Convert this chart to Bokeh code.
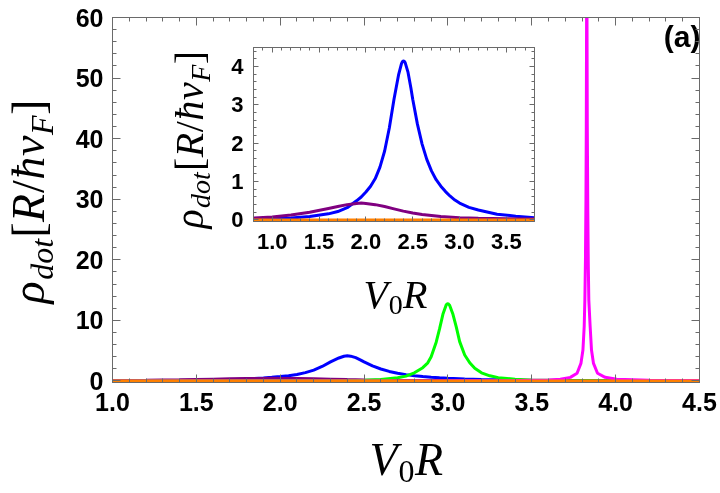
import numpy as np
from math import pi
from bokeh.plotting import figure
from bokeh.models import Range1d, LinearAxis, FixedTicker, Label
from bokeh.embed import file_html
from bokeh.resources import INLINE

# ---------------- data ----------------
blue_x = [0.8, 1.0, 1.2, 1.4, 1.6, 1.7, 1.8, 1.9, 1.95, 2.0, 2.05, 2.1, 2.15, 2.2, 2.25, 2.3,
          2.35, 2.38, 2.39, 2.4, 2.41, 2.42, 2.45, 2.48, 2.5, 2.55, 2.6, 2.65, 2.7, 2.75, 2.8,
          2.85, 2.9, 2.95, 3.0, 3.1, 3.2, 3.4, 3.6, 3.8, 4.0, 4.5]
blue_y = [0.02, 0.03, 0.05, 0.09, 0.16, 0.22, 0.32, 0.5, 0.6, 0.73, 0.88, 1.08, 1.38, 1.8, 2.4, 3.15,
          3.8, 4.08, 4.13, 4.15, 4.14, 4.1, 3.85, 3.45, 3.15, 2.5, 1.98, 1.58, 1.28, 1.05, 0.88,
          0.74, 0.62, 0.52, 0.44, 0.33, 0.26, 0.15, 0.1, 0.06, 0.05, 0.03]

purple_x = [0.8, 1.0, 1.2, 1.4, 1.6, 1.7, 1.8, 1.9, 1.95, 2.0, 2.1, 2.2, 2.3, 2.4, 2.5, 2.6,
            2.8, 3.0, 3.2, 3.5, 4.0, 4.5]
purple_y = [0.05, 0.08, 0.13, 0.2, 0.3, 0.35, 0.4, 0.43, 0.44, 0.43, 0.4, 0.35, 0.29, 0.23, 0.18, 0.14,
            0.09, 0.06, 0.045, 0.03, 0.02, 0.015]

green_x = [1.0, 2.0, 2.4, 2.5, 2.6, 2.7, 2.75, 2.8, 2.85, 2.88, 2.9, 2.93, 2.95, 2.97, 2.99, 3.0,
           3.01, 3.03, 3.05, 3.07, 3.1, 3.13, 3.16, 3.2, 3.25, 3.3, 3.4, 3.5, 3.7, 4.0, 4.5]
green_y = [0.01, 0.03, 0.08, 0.13, 0.25, 0.55, 0.8, 1.35, 2.2, 3.0, 4.0, 6.4, 8.6, 11.0, 12.6, 12.8,
           12.5, 11.0, 8.9, 6.5, 4.3, 3.0, 2.1, 1.35, 0.85, 0.55, 0.28, 0.17, 0.08, 0.04, 0.02]

magenta_x = [1.0, 3.0, 3.4, 3.6, 3.67, 3.73, 3.77, 3.793, 3.805, 3.8125, 3.8165, 3.82, 3.823, 3.825,
             3.827, 3.828, 3.829, 3.831, 3.834, 3.837, 3.84, 3.848, 3.856, 3.868, 3.892, 3.9375,
             4.007, 4.2, 4.5]
magenta_y = [0.0, 0.02, 0.06, 0.18, 0.28, 0.6, 1.27, 2.9, 5.1, 9.0, 13.4, 20.0, 30.0, 42.0,
             62.0, 75.0, 62.0, 42.0, 28.0, 19.0, 13.4, 9.0, 5.1, 2.9, 1.27, 0.6,
             0.28, 0.12, 0.06]

orange_x = [0.8, 1.0, 1.5, 2.0, 2.5, 3.0, 3.5, 4.0, 4.5]
orange_y = [0.0, 0.0, 0.0, 0.0, 0.0, 0.0, 0.0, 0.0, 0.0]

main_x_ticks = [1.0, 1.5, 2.0, 2.5, 3.0, 3.5, 4.0, 4.5]
main_x_labels = ["1.0", "1.5", "2.0", "2.5", "3.0", "3.5", "4.0", "4.5"]
main_y_ticks = [0, 10, 20, 30, 40, 50, 60]
main_y_labels = ["0", "10", "20", "30", "40", "50", "60"]
inset_x_ticks = [1.0, 1.5, 2.0, 2.5, 3.0, 3.5]
inset_x_labels = ["1.0", "1.5", "2.0", "2.5", "3.0", "3.5"]
inset_y_ticks = [0, 1, 2, 3, 4]
inset_y_labels = ["0", "1", "2", "3", "4"]

# ---------------- styling ----------------
GRAY = "#6a6a6a"
SERIF = "Liberation Serif"
SANS = "Liberation Sans"
COLORS = {"blue": "#0000ff", "purple": "#800080", "green": "#00ff00",
          "magenta": "#ff00ff", "orange": "#ff8000"}

EM = {"V": 0.611, "R": 0.611, "ρ": 0.5, "d": 0.5, "o": 0.5, "t": 0.278, "ħ": 0.5,
      "v": 0.444, "F": 0.611, "[": 0.333, "]": 0.333, "/": 0.278, "0": 0.5}


def fixed_css(left, top):
    return [":host { position: fixed !important; left: %dpx !important; top: %dpx !important; }"
            % (left, top)]


def text_width(s, size):
    return sum(EM.get(c, 0.5) for c in s) * size * 1.03


def put_math(p, pieces, x0, y0, vertical=False):
    """Formula pieces on the page-coordinate background figure; (x0, y0) is the start of
    the baseline.  pieces: (text, size, sub_offset, style)"""
    pos = 0.0
    for txt, size, off, style in pieces:
        c = 0.34 * size  # distance from baseline to the middle of the text box
        if vertical:
            x, y, ang = x0 + off - c, y0 - pos, pi / 2
        else:
            x, y, ang = x0 + pos, y0 + off - c, 0
        p.add_layout(Label(x=x, y=y, text=txt, angle=ang, text_align="left",
                           text_baseline="middle", text_font=SERIF,
                           text_font_size=f"{size}px", text_font_style=style,
                           text_color="black"))
        pos += text_width(txt, size)


def frame_axes(p, xt, xl, yt, yl, xminor, yminor, fsize, tmaj, tmin, xstand, ystand):
    axes = []
    for ax in p.xaxis:
        ax.ticker = FixedTicker(ticks=xt, minor_ticks=xminor)
        ax.major_label_overrides = dict(zip(xt, xl))
        ax.major_label_standoff = xstand
        axes.append(ax)
    for ax in p.yaxis:
        ax.ticker = FixedTicker(ticks=yt, minor_ticks=yminor)
        ax.major_label_overrides = dict(zip(yt, yl))
        ax.major_label_standoff = ystand
        axes.append(ax)
    top = LinearAxis(ticker=FixedTicker(ticks=xt, minor_ticks=xminor),
                     major_label_overrides={t: "" for t in xt},
                     major_label_text_font_size="1px", major_label_standoff=0)
    right = LinearAxis(ticker=FixedTicker(ticks=yt, minor_ticks=yminor),
                       major_label_overrides={t: "" for t in yt},
                       major_label_text_font_size="1px", major_label_standoff=0)
    p.add_layout(top, "above")
    p.add_layout(right, "right")
    for ax in axes:
        ax.major_label_text_font = SANS
        ax.major_label_text_font_style = "bold"
        ax.major_label_text_font_size = f"{fsize}px"
        ax.major_label_text_color = "black"
    for ax in axes + [top, right]:
        ax.axis_line_color = GRAY
        ax.axis_line_width = 1
        ax.major_tick_line_color = GRAY
        ax.minor_tick_line_color = GRAY
        ax.major_tick_in = tmaj
        ax.major_tick_out = 0
        ax.minor_tick_in = tmin
        ax.minor_tick_out = 0
    p.xgrid.visible = False
    p.ygrid.visible = False
    p.outline_line_color = GRAY


# ---------------- background figure (frame = page pixels) holding the titles ----------------
bg = figure(width=720, height=493, x_range=Range1d(0, 720), y_range=Range1d(493, 0),
            x_axis_type=None, y_axis_type=None,
            output_backend="svg", toolbar_location=None, min_border=0,
            background_fill_color="white", border_fill_color="white",
            stylesheets=fixed_css(0, 0))
bg.grid.visible = False
bg.outline_line_color = None

put_math(bg, [("V", 46, 0, "italic"), ("0", 32, 7, "normal"), ("R", 46, 0, "italic")], 369, 475)
put_math(bg, [("ρ", 46, 0, "italic"), ("dot", 32, 8, "italic"), ("[", 46, 0, "normal"),
              ("R", 46, 0, "italic"), ("/", 46, 0, "normal"), ("ħ", 46, 0, "italic"),
              ("v", 46, 0, "italic"), ("F", 32, 8, "italic"), ("]", 46, 0, "normal")],
         44, 303, vertical=True)
put_math(bg, [("V", 40, 0, "italic"), ("0", 28, 6, "normal"), ("R", 40, 0, "italic")], 363, 308)
put_math(bg, [("ρ", 40, 0, "italic"), ("dot", 28, 7, "italic"), ("[", 40, 0, "normal"),
              ("R", 40, 0, "italic"), ("/", 40, 0, "normal"), ("ħ", 40, 0, "italic"),
              ("v", 40, 0, "italic"), ("F", 28, 7, "italic"), ("]", 40, 0, "normal")],
         203, 228, vertical=True)
bg.add_layout(Label(x=700, y=46 - 0.35 * 30, text="(a)", text_align="right",
                    text_baseline="middle", text_font=SANS, text_font_style="bold",
                    text_font_size="30px", text_color="black"))

# ---------------- main figure (frame at page x 112..699, y 17..382) ----------------
p = figure(frame_width=587, frame_height=365, x_range=Range1d(1.0, 4.5), y_range=Range1d(-0.25, 60),
           output_backend="svg", toolbar_location=None,
           min_border_left=112, min_border_right=21, min_border_top=17, min_border_bottom=111,
           background_fill_color=None, border_fill_color=None,
           stylesheets=fixed_css(0, 0))
frame_axes(p, main_x_ticks, main_x_labels, main_y_ticks, main_y_labels,
           list(np.round(np.arange(1.0, 4.51, 0.1), 2)), list(np.arange(0, 61, 2)),
           25, 8, 4, 10, 9)
p.line(blue_x, blue_y, line_color=COLORS["blue"], line_width=3)
p.line(purple_x, purple_y, line_color=COLORS["purple"], line_width=3)
p.line(green_x, green_y, line_color=COLORS["green"], line_width=3)
p.line(magenta_x, magenta_y, line_color=COLORS["magenta"], line_width=3)
p.line(orange_x, orange_y, line_color=COLORS["orange"], line_width=3)

# ---------------- inset figure (frame at page x 253..534, y 47..221) ----------------
q = figure(frame_width=281, frame_height=174, x_range=Range1d(0.8, 3.8), y_range=Range1d(-0.04, 4.5),
           output_backend="svg", toolbar_location=None,
           min_border_left=93, min_border_right=20, min_border_top=9, min_border_bottom=100,
           background_fill_color="white", border_fill_color=None,
           stylesheets=fixed_css(160, 38))
frame_axes(q, inset_x_ticks, inset_x_labels, inset_y_ticks, inset_y_labels,
           list(np.round(np.arange(0.8, 3.81, 0.1), 2)), list(np.round(np.arange(0, 4.51, 0.2), 2)),
           22, 5, 3, 12, 10)
q.line(blue_x, blue_y, line_color=COLORS["blue"], line_width=3)
q.line(purple_x, purple_y, line_color=COLORS["purple"], line_width=3)
q.line(orange_x, orange_y, line_color=COLORS["orange"], line_width=3)

# three independent roots (no frame alignment between them), stacked by fixed positioning
open("out.html", "w").write(file_html([bg, p, q], INLINE))
